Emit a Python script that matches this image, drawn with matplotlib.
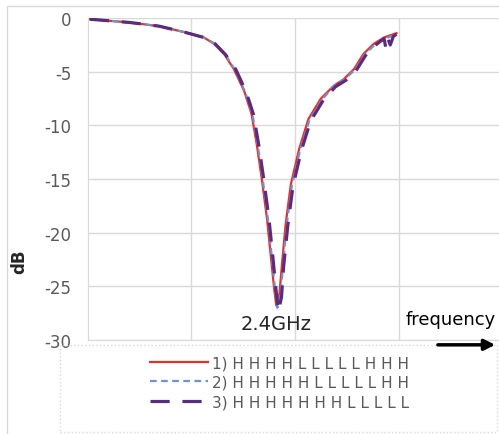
import matplotlib.pyplot as plt
from matplotlib.patches import Rectangle, FancyArrowPatch

# frequency positions (arbitrary units, gridlines at 1, 2, 3)
freq1 = [0.02, 0.40, 0.69, 0.93, 1.12, 1.22, 1.32, 1.41, 1.51, 1.58, 1.63, 1.68,
         1.73, 1.77, 1.80, 1.82, 1.85, 1.875, 1.91, 1.96, 2.04, 2.13, 2.25, 2.375,
         2.47, 2.57, 2.66, 2.76, 2.86, 2.92, 2.98]
db1 = [-0.1, -0.4, -0.75, -1.3, -1.8, -2.4, -3.4, -4.75, -6.8, -8.9, -11.7, -15.0,
       -18.7, -22.5, -25.3, -26.8, -25.7, -22.9, -19.2, -15.5, -12.2, -9.4, -7.5, -6.3,
       -5.7, -4.75, -3.35, -2.4, -1.8, -1.6, -1.4]

freq2 = [0.02, 0.40, 0.69, 0.93, 1.12, 1.23, 1.33, 1.42, 1.52, 1.59, 1.64, 1.69,
         1.74, 1.78, 1.81, 1.83, 1.86, 1.885, 1.92, 1.97, 2.05, 2.14, 2.26, 2.38,
         2.48, 2.58, 2.67, 2.77, 2.87, 2.93, 2.98]
db2 = [-0.1, -0.4, -0.75, -1.3, -1.8, -2.4, -3.4, -4.8, -6.9, -9.0, -11.8, -15.1,
       -18.8, -22.6, -25.5, -27.0, -25.8, -23.0, -19.3, -15.6, -12.3, -9.5, -7.6, -6.3,
       -5.7, -4.8, -3.4, -2.5, -1.9, -1.7, -1.5]

freq3 = [0.02, 0.40, 0.69, 0.93, 1.12, 1.23, 1.33, 1.43, 1.53, 1.60, 1.65, 1.70,
         1.75, 1.79, 1.82, 1.84, 1.87, 1.89, 1.93, 1.98, 2.06, 2.15, 2.27, 2.39,
         2.49, 2.59, 2.68, 2.78, 2.86, 2.88, 2.90, 2.92, 2.95, 2.98]
db3 = [-0.1, -0.4, -0.75, -1.3, -1.8, -2.4, -3.4, -4.8, -6.9, -9.0, -11.8, -15.1,
       -18.8, -22.6, -25.6, -27.3, -26.0, -23.2, -19.4, -15.7, -12.4, -9.6, -7.7, -6.4,
       -5.8, -4.9, -3.5, -2.5, -1.9, -2.9, -2.0, -2.5, -1.7, -1.5]

labels = ["1) H H H H L L L L L H H H",
          "2) H H H H H L L L L L H H",
          "3) H H H H H H H L L L L L"]
yticks = [0, -5, -10, -15, -20, -25, -30]

fig = plt.figure(figsize=(4.99, 4.35), dpi=100)
ax = fig.add_axes([0.176, 0.216, 0.824, 0.74])

# outer chart border
fig.patches.append(Rectangle((0.014, -0.01), 1.0, 0.994, transform=fig.transFigure,
                             fill=False, edgecolor="#D9D9D9", linewidth=1))

l1, = ax.plot(freq1, db1, color="#E8302B", lw=1.6, label=labels[0])
l2, = ax.plot(freq2, db2, color="#6F93CC", lw=1.6, ls=(0, (3, 2)), label=labels[1])
l3, = ax.plot(freq3, db3, color="#5A2C7E", lw=2.3, ls=(0, (6, 4)), label=labels[2])

ax.set_xlim(0, 3.97)
ax.set_ylim(-30, 0)
ax.set_xticks([1, 2, 3])
ax.set_yticks(yticks)
ax.set_yticklabels([str(t) for t in yticks])
ax.tick_params(axis="both", length=0, colors="#595959", labelsize=12, pad=12)
ax.tick_params(axis="x", labelbottom=False)
ax.grid(True, color="#D9D9D9", linewidth=1)
for side in ["top", "right"]:
    ax.spines[side].set_visible(False)
for side in ["left", "bottom"]:
    ax.spines[side].set_color("#D9D9D9")
ax.set_ylabel("dB", fontsize=12, fontweight="bold", color="#262626")
ax.yaxis.set_label_coords(-0.146, 0.245)

ax.text(1.82, -28.5, "2.4GHz", ha="center", va="center", fontsize=14, color="#262626")
fig.text(0.903, 0.264, "frequency", ha="center", va="center", fontsize=13, color="black")
fig.add_artist(FancyArrowPatch((0.872, 0.205), (0.998, 0.205), transform=fig.transFigure,
                               arrowstyle="-|>", color="black", lw=2.5,
                               mutation_scale=16, zorder=10))

# legend area
fig.patches.append(Rectangle((0.12, 0.005), 0.875, 0.2, transform=fig.transFigure,
                             fill=False, edgecolor="#D9D9D9", linewidth=1, linestyle=":"))
fig.legend(handles=[l1, l2, l3], loc="center", bbox_to_anchor=(0.56, 0.119),
           frameon=False, fontsize=11, labelcolor="#595959", handlelength=3.8,
           handletextpad=0.3, labelspacing=0.3)

fig.savefig("out.png", dpi=100)
